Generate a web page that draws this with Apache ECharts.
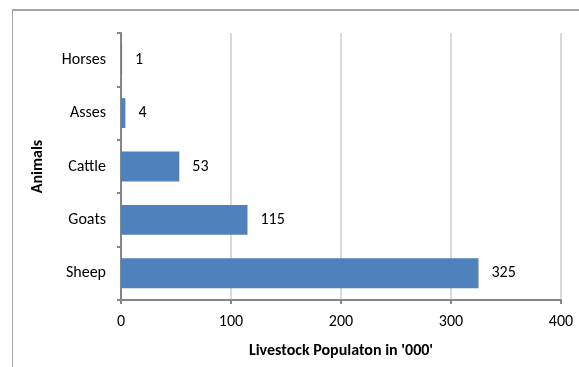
<!DOCTYPE html>
<html>
<head>
<meta charset="utf-8">
<script src="https://cdn.jsdelivr.net/npm/echarts@6/dist/echarts.min.js"></script>
<style>
  html, body { margin: 0; padding: 0; background: #fff; }
  #frame { position: absolute; left: 12px; top: 9px; width: 600px; height: 400px;
           border-left: 1px solid #a6a6a6; border-top: 2px solid #a6a6a6; }
  #chart { position: absolute; left: 0; top: 0; width: 579px; height: 367px; }
</style>
</head>
<body>
<div id="frame"></div>
<div id="chart"></div>
<script>
// Livestock population by animal, in thousands
const animals = ['Sheep', 'Goats', 'Cattle', 'Asses', 'Horses'];
const population = [325, 115, 53, 4, 1];
const xTicks = [0, 100, 200, 300, 400];

const font = 'Carlito, Lato, "Open Sans", sans-serif';
const chart = echarts.init(document.getElementById('chart'), null, { renderer: 'canvas' });
chart.setOption({
  animation: false,
  grid: { left: 121, right: 18, top: 33, bottom: 67, containLabel: false },
  xAxis: {
    type: 'value',
    min: xTicks[0],
    max: xTicks[xTicks.length - 1],
    interval: 100,
    name: "Livestock Populaton in '000'",
    nameLocation: 'middle',
    nameGap: 43,
    nameTextStyle: { fontFamily: font, fontSize: 16, fontWeight: 'bold', color: '#000' },
    axisLine: { show: true, lineStyle: { color: '#868686', width: 2 } },
    axisTick: { show: true, length: 4, lineStyle: { color: '#868686', width: 2 } },
    axisLabel: { fontFamily: font, fontSize: 16, color: '#000', margin: 14 },
    splitLine: { show: true, lineStyle: { color: '#d9d9d9', width: 2 } }
  },
  yAxis: {
    type: 'category',
    data: animals,
    name: 'Animals',
    nameLocation: 'middle',
    nameGap: 75,
    nameRotate: 90,
    nameTextStyle: { fontFamily: font, fontSize: 16, fontWeight: 'bold', color: '#000' },
    axisLine: { show: true, lineStyle: { color: '#868686', width: 2 } },
    axisTick: { show: true, length: 4, alignWithLabel: false, lineStyle: { color: '#868686', width: 2 } },
    axisLabel: { fontFamily: font, fontSize: 16, color: '#000', margin: 15 },
    splitLine: { show: false }
  },
  series: [{
    type: 'bar',
    data: population,
    barCategoryGap: '44%',
    itemStyle: { color: '#4f81bd' },
    label: { show: true, position: 'right', distance: 13, fontFamily: font, fontSize: 16, color: '#000' }
  }]
});
</script>
</body>
</html>
